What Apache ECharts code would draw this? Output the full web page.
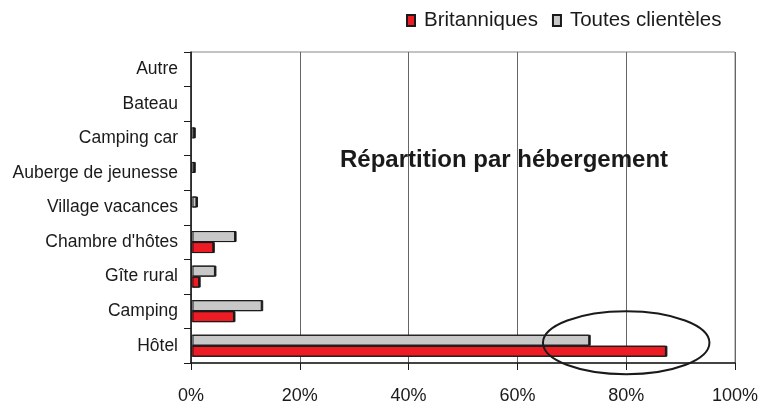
<!DOCTYPE html>
<html>
<head>
<meta charset="utf-8">
<script src="https://cdn.jsdelivr.net/npm/echarts@6/dist/echarts.min.js"></script>
<style>
  html, body { margin: 0; padding: 0; background: #fff; }
  #chart { width: 762px; height: 407px; }
</style>
</head>
<body>
<div id="chart"></div>
<script>
const categories = ['Hôtel', 'Camping', 'Gîte rural', "Chambre d'hôtes", 'Village vacances',
  'Auberge de jeunesse', 'Camping car', 'Bateau', 'Autre']
const britanniques     = [87.3, 7.9, 1.5, 4.1, 0, 0, 0, 0, 0]
const toutesClienteles = [73.2, 13.0, 4.4, 8.1, 1.0, 0.6, 0.6, 0, 0]
const xTicks = [0, 20, 40, 60, 80, 100]

const FONT = '"Liberation Sans", Arial, sans-serif'

const chart = echarts.init(document.getElementById('chart'))

const barStyle = color => ({
  color,
  borderColor: '#1a1a1a',
  borderWidth: 1,
  shadowColor: '#1a1a1a',
  shadowOffsetX: 1.5,
  shadowBlur: 0,
})

// pas de contour pour les valeurs nulles
const withZeroes = values => values.map(v => v === 0
  ? { value: v, itemStyle: { borderWidth: 0, shadowOffsetX: 0, opacity: 0 } }
  : v)

chart.setOption({
  animation: false,
  textStyle: { fontFamily: FONT },
  title: {
    text: 'Répartition par hébergement',
    left: 340,
    top: 148,
    padding: 0,
    textStyle: { fontSize: 24, fontWeight: 'bold', color: '#1a1a1a', fontFamily: FONT },
  },
  legend: {
    left: 406,
    top: 10,
    padding: 0,
    icon: 'rect',
    itemWidth: 8,
    itemHeight: 11,
    itemGap: 14,
    textStyle: { fontSize: 20.5, color: '#1a1a1a', padding: [0, 0, 0, 4], fontFamily: FONT },
    data: ['Britanniques', 'Toutes clientèles'],
  },
  grid: {
    left: 191, right: 27, top: 52, bottom: 44,
    show: true, borderColor: '#888', borderWidth: 1,
  },
  xAxis: {
    type: 'value',
    min: xTicks[0],
    max: xTicks[xTicks.length - 1],
    interval: 20,
    axisLine: { show: true, lineStyle: { color: '#1a1a1a', width: 1.5 } },
    axisTick: { show: true, length: 7, lineStyle: { color: '#1a1a1a' } },
    splitLine: { show: true, lineStyle: { color: '#666', width: 1 } },
    axisLabel: { formatter: v => v + '%', fontSize: 18, color: '#1a1a1a', margin: 24, fontFamily: FONT },
  },
  yAxis: {
    type: 'category',
    data: categories,
    axisLine: { show: true, lineStyle: { color: '#1a1a1a', width: 1.5 } },
    axisTick: { show: true, length: 7, lineStyle: { color: '#1a1a1a' } },
    axisLabel: { fontSize: 17.5, color: '#1a1a1a', margin: 13, fontFamily: FONT },
  },
  series: [
    {
      name: 'Toutes clientèles',
      type: 'bar',
      data: withZeroes(toutesClienteles),
      barWidth: 11,
      barGap: '0%',
      itemStyle: barStyle('#c8c8c8'),
    },
    {
      name: 'Britanniques',
      type: 'bar',
      data: withZeroes(britanniques),
      barWidth: 11,
      barGap: '0%',
      itemStyle: barStyle('#ed1c24'),
    },
  ],
})

// Ellipse autour de la barre Hôtel, centrée sur 80 %
const cx = chart.convertToPixel({ xAxisIndex: 0 }, 80)
const cy = chart.convertToPixel({ yAxisIndex: 0 }, 'Hôtel') - 3
const rx = chart.convertToPixel({ xAxisIndex: 0 }, 80) - chart.convertToPixel({ xAxisIndex: 0 }, 64.7)
chart.setOption({
  graphic: [{
    type: 'ellipse',
    shape: { cx, cy, rx, ry: 31.5 },
    style: { fill: 'none', stroke: '#1a1a1a', lineWidth: 2 },
    z: 100,
  }],
})
</script>
</body>
</html>
